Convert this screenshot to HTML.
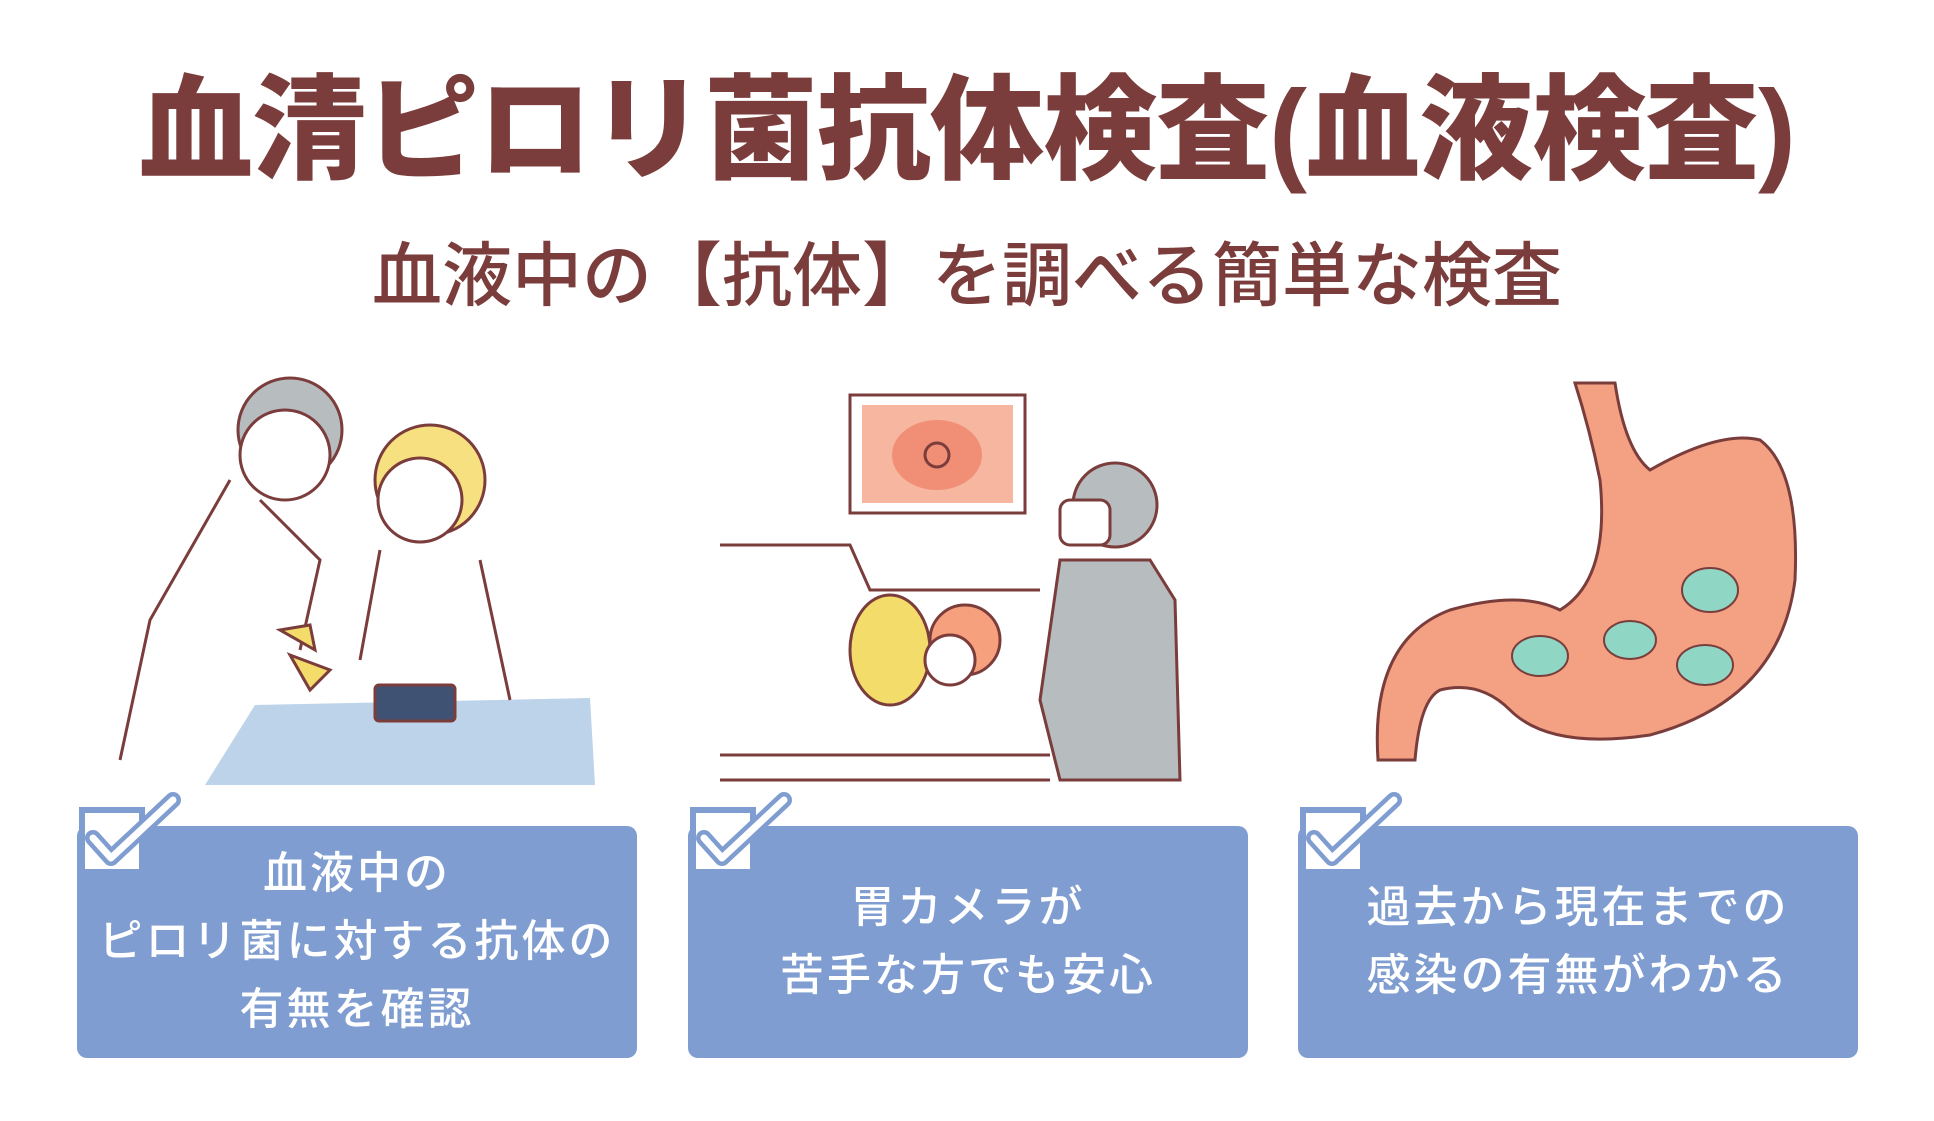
<!DOCTYPE html>
<html><head><meta charset="utf-8"><style>
body{margin:0;width:1934px;height:1121px;background:#fff;position:relative;overflow:hidden;font-family:"Liberation Sans","Noto Sans CJK JP",sans-serif}
.t{position:absolute;left:0;width:1934px;text-align:center;color:#7b3d3c;font-weight:900;white-space:nowrap}
.box{position:absolute;top:826px;width:560px;height:232px;background:#7f9dd0;border-radius:10px}
.txt{position:absolute;left:0;top:0;width:100%;height:100%;display:flex;flex-direction:column;justify-content:center;align-items:center;color:#fff;font-size:44px;line-height:68px;letter-spacing:3px;font-weight:500}
.cb{position:absolute;top:-30px;left:2px;width:110px;height:100px;overflow:visible}
</style></head><body>
<div class="t" style="top:38px;font-size:114px;letter-spacing:-1px">血清ピロリ菌抗体検査(血液検査)</div>
<div class="t" style="top:220px;font-size:70px;font-weight:500;letter-spacing:0px">血液中の【抗体】を調べる簡単な検査</div>

<svg style="position:absolute;left:0;top:0" width="1934" height="800">
<g stroke="#7b3d3c" stroke-width="3" fill="none">
<polygon points="255,705 590,698 595,785 205,785" fill="#bcd3ea" stroke="none"/>
<circle cx="290" cy="430" r="52" fill="#b7bcbf"/>
<circle cx="285" cy="455" r="45" fill="#fff"/>
<circle cx="430" cy="480" r="55" fill="#f7e07f"/>
<circle cx="420" cy="500" r="42" fill="#fff"/>
<path d="M230,480 L150,620 L120,760 M260,500 L320,560 L300,650"/>
<path d="M380,550 L360,660 M480,560 L510,700"/>
<rect x="375" y="685" width="80" height="36" rx="4" fill="#3f5274"/>
<path d="M290,655 l40,15 l-20,20 z" fill="#f3dc6a"/>
<path d="M280,630 l30,-5 l5,25 z" fill="#f3dc6a"/>
</g>
<g stroke="#7b3d3c" stroke-width="3" fill="none">
<rect x="850" y="395" width="175" height="118" fill="#fff"/>
<rect x="862" y="405" width="151" height="98" fill="#f6b6a0" stroke="none"/>
<ellipse cx="937" cy="455" rx="45" ry="35" fill="#f18f76" stroke="none"/>
<circle cx="937" cy="455" r="12"/>
<path d="M720,545 L850,545 L870,590 L1040,590 M720,755 L1050,755 M720,780 L1050,780"/>
<ellipse cx="890" cy="650" rx="40" ry="55" fill="#f3dc6a"/>
<circle cx="965" cy="640" r="35" fill="#f6a07d"/>
<circle cx="950" cy="660" r="25" fill="#fff"/>
<path d="M1060,560 L1040,700 L1060,780 L1180,780 L1175,600 L1150,560 Z" fill="#b7bcbf"/>
<circle cx="1115" cy="505" r="42" fill="#b7bcbf"/>
<rect x="1060" y="500" width="50" height="45" rx="10" fill="#fff"/>
</g>
<g stroke="#7b3d3c" stroke-width="3">
<path d="M1575,383 L1615,383 Q1625,450 1650,470 Q1720,430 1760,440 Q1800,470 1795,580 Q1780,700 1650,735 Q1550,750 1510,710 Q1480,680 1440,690 Q1420,700 1415,760 L1378,760 Q1370,640 1450,610 Q1520,590 1560,610 Q1610,580 1600,480 Q1590,430 1575,383 Z" fill="#f4a183"/>
<ellipse cx="1540" cy="656" rx="28" ry="20" fill="#8fd6c4" stroke-width="2"/>
<ellipse cx="1630" cy="640" rx="26" ry="19" fill="#8fd6c4" stroke-width="2"/>
<ellipse cx="1710" cy="590" rx="28" ry="22" fill="#8fd6c4" stroke-width="2"/>
<ellipse cx="1705" cy="665" rx="28" ry="20" fill="#8fd6c4" stroke-width="2"/>
</g>
</svg>

<div class="box" style="left:77px"><svg class="cb" viewBox="0 0 110 100"><rect x="3" y="14" width="60" height="62" fill="#fff" stroke="#7f9dd0" stroke-width="6"/><path d="M14,42 L32,62 L94,4" stroke="#7f9dd0" stroke-width="16" fill="none" stroke-linejoin="round" stroke-linecap="round"/><path d="M14,42 L32,62 L94,4" stroke="#fff" stroke-width="7" fill="none" stroke-linejoin="round" stroke-linecap="round"/></svg>
<div class="txt"><div>血液中の</div><div>ピロリ菌に対する抗体の</div><div>有無を確認</div></div></div>
<div class="box" style="left:688px"><svg class="cb" viewBox="0 0 110 100"><rect x="3" y="14" width="60" height="62" fill="#fff" stroke="#7f9dd0" stroke-width="6"/><path d="M14,42 L32,62 L94,4" stroke="#7f9dd0" stroke-width="16" fill="none" stroke-linejoin="round" stroke-linecap="round"/><path d="M14,42 L32,62 L94,4" stroke="#fff" stroke-width="7" fill="none" stroke-linejoin="round" stroke-linecap="round"/></svg>
<div class="txt"><div>胃カメラが</div><div>苦手な方でも安心</div></div></div>
<div class="box" style="left:1298px"><svg class="cb" viewBox="0 0 110 100"><rect x="3" y="14" width="60" height="62" fill="#fff" stroke="#7f9dd0" stroke-width="6"/><path d="M14,42 L32,62 L94,4" stroke="#7f9dd0" stroke-width="16" fill="none" stroke-linejoin="round" stroke-linecap="round"/><path d="M14,42 L32,62 L94,4" stroke="#fff" stroke-width="7" fill="none" stroke-linejoin="round" stroke-linecap="round"/></svg>
<div class="txt"><div>過去から現在までの</div><div>感染の有無がわかる</div></div></div>
</body></html>
